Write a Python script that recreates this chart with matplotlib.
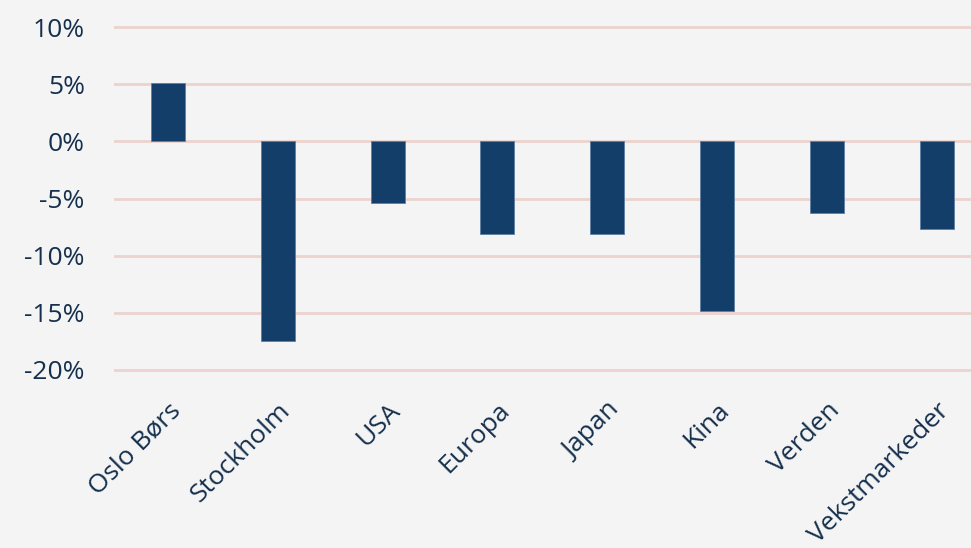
import matplotlib.pyplot as plt
from matplotlib.ticker import FuncFormatter

# Data (percent change)
markets = ["Oslo Børs", "Stockholm", "USA", "Europa", "Japan", "Kina", "Verden", "Vekstmarkeder"]
returns = [5.1, -17.5, -5.4, -8.1, -8.1, -14.8, -6.3, -7.7]
y_ticks = [10, 5, 0, -5, -10, -15, -20]

bg = "#f4f4f4"
bar_color = "#133e69"
text_color = "#15304d"
grid_color = "#ecd3cd"

plt.rcParams["font.family"] = ["Open Sans", "DejaVu Sans"]

fig = plt.figure(figsize=(9.71, 5.48), dpi=100, facecolor=bg)
ax = fig.add_axes([0.1174, 0.3145, 0.8826, 0.6465], facecolor=bg)

x = range(len(markets))
ax.bar(x, returns, width=0.31, color=bar_color, edgecolor="#5f7fa3", linewidth=0.6, zorder=3)

ax.set_xlim(-0.49, 7.31)
ax.set_ylim(-20.5, 10.5)
ax.set_yticks(y_ticks)
ax.yaxis.set_major_formatter(FuncFormatter(lambda v, p: f"{v:.0f}%"))
ax.grid(axis="y", color=grid_color, linewidth=2, zorder=0)
ax.grid(axis="x", visible=False)

for s in ax.spines.values():
    s.set_visible(False)

ax.tick_params(axis="y", length=0, pad=21, labelsize=19, labelcolor=text_color)
ax.tick_params(axis="x", length=0, pad=16, labelsize=19, labelcolor=text_color)
ax.set_xticks(list(x))
ax.set_xticklabels(markets, rotation=45, ha="right", rotation_mode="anchor")
for lbl in ax.get_xticklabels():
    lbl.set_x(lbl.get_position()[0])

fig.savefig("out.png", dpi=100, facecolor=bg)
